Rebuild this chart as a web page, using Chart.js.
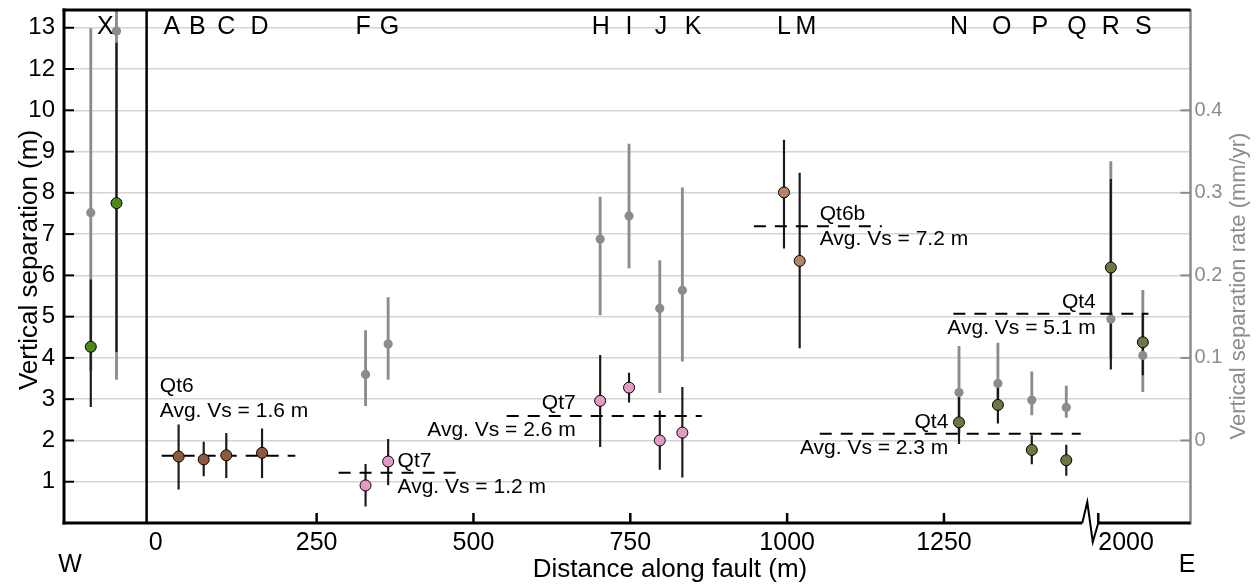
<!DOCTYPE html>
<html>
<head>
<meta charset="utf-8">
<script src="https://cdn.jsdelivr.net/npm/chart.js@4.4.1/dist/chart.umd.min.js"></script>
<style>
  html, body { margin: 0; padding: 0; background: #fff; }
</style>
</head>
<body>
<canvas id="myChart" width="1257" height="588"></canvas>
<script>
// sites along the fault, distance in m (R and S are past the axis break)
const sites    = ['X1','X2','A','B','C','D','F','G','H','I','J','K','L','M','N','O','P','Q','R','S'];
const siteDist = [-110, -69, 30, 70, 106, 163, 328, 364, 702, 748, 797, 833, 995, 1020, 1274, 1336, 1390, 1445, 2020, 2071];
const siteUnit = ['X','X','Qt6','Qt6','Qt6','Qt6','Qt7','Qt7','Qt7','Qt7','Qt7','Qt7','Qt6b','Qt6b','Qt4','Qt4','Qt4','Qt4','Qt4','Qt4'];

// vertical separation (m)
const vs   = [4.27, 7.75, 1.61, 1.54, 1.64, 1.70, 0.91, 1.49, 2.96, 3.28, 2.00, 2.19, 8.01, 6.35, 2.44, 2.86, 1.77, 1.52, 6.19, 4.38];
const vsLo = [2.82, 4.15, 0.82, 1.14, 1.10, 1.10, 0.41, 0.92, 1.85, 2.93, 1.30, 1.11, 6.66, 4.24, 1.92, 2.42, 1.43, 1.15, 3.73, 3.59];
const vsHi = [5.89, 11.63, 2.38, 1.96, 2.17, 2.28, 1.42, 2.03, 4.06, 3.63, 2.72, 3.29, 9.28, 8.48, 3.08, 3.36, 2.12, 1.89, 8.33, 5.08];

// vertical separation rate (mm/yr), grey marks
const rate   = [0.276, 0.496, null, null, null, null, 0.080, 0.117, 0.244, 0.272, 0.160, 0.182, null, null, 0.058, 0.069, 0.049, 0.040, 0.147, 0.103];
const rateLo = [0.085, 0.074, null, null, null, null, 0.042, 0.074, 0.152, 0.209, 0.058, 0.096, null, null, 0.010, 0.050, 0.031, 0.028, 0.100, 0.059];
const rateHi = [0.499, 0.560, null, null, null, null, 0.133, 0.173, 0.295, 0.359, 0.218, 0.306, null, null, 0.114, 0.118, 0.083, 0.066, 0.338, 0.182];

// average separation per terrace
const avgUnit = ['Qt6', 'Qt7', 'Qt7', 'Qt6b', 'Qt4', 'Qt4'];
const avgVs   = [1.63, 1.22, 2.59, 7.19, 2.16, 5.07];
const avgFrom = [3, 285, 553, 947, 1052, 1265];
const avgTo   = [216, 480, 864, 1151, 1468, 2080];
const avgText = ['Avg. Vs = 1.6 m', 'Avg. Vs = 1.2 m', 'Avg. Vs = 2.6 m', 'Avg. Vs = 7.2 m', 'Avg. Vs = 2.3 m', 'Avg. Vs = 5.1 m'];

// ticks
const yTicks      = [1, 2, 3, 4, 5, 6, 7, 8, 9, 10, 11, 12];
const yTickLabels = ['1', '2', '3', '4', '5', '6', '7', '8', '9', '10', '12', '13'];
const rateTicks   = [0, 0.1, 0.2, 0.3, 0.4];
const xTicks      = [0, 250, 500, 750, 1000, 1250, 2000];

// site letters along the top
const letters   = ['X','A','B','C','D','F','G','H','I','J','K','L','M','N','O','P','Q','R','S'];
const letterPos = [-87, 19, 60, 106, 159, 324, 366, 703, 748, 799, 850, 995, 1030, 1274, 1342, 1403, 1462, 2020, 2072];

const unitColor = { X: '#4b8a16', Qt6: '#8d5a3b', Qt7: '#e49ac3', Qt6b: '#b38566', Qt4: '#6a7842' };

const BREAK_SHIFT = 504;
const bx = d => d >= 1900 ? d - BREAK_SHIFT : d;   // squeeze the far end past the break
const Y_MAX = 12.43;
const FONT = '"Liberation Sans", Arial, sans-serif';

const greyBars = [], greyPts = [], blackBars = [];
sites.forEach((s, i) => {
  const x = bx(siteDist[i]);
  blackBars.push({ x: x, y: [vsLo[i], vsHi[i]] });
  if (rate[i] != null) {
    greyBars.push({ x: x, y: [rateLo[i], rateHi[i]] });
    greyPts.push({ x: x, y: rate[i] });
  }
});

const datasets = [];
datasets.push({ type: 'bar', yAxisID: 'yRate', data: greyBars, backgroundColor: '#8c8c8c', barThickness: 2.2, grouped: false, order: 6 });
datasets.push({ type: 'bar', yAxisID: 'y', data: blackBars, backgroundColor: '#1a1a1a', barThickness: 1.5, grouped: false, order: 5 });
datasets.push({ type: 'scatter', yAxisID: 'yRate', data: greyPts, pointRadius: 4.6, pointBackgroundColor: '#8c8c8c', pointBorderWidth: 0, order: 4 });
avgVs.forEach((v, i) => {
  datasets.push({
    type: 'line', yAxisID: 'y', data: [{ x: bx(avgFrom[i]), y: v }, { x: bx(avgTo[i]), y: v }],
    borderColor: '#000', borderWidth: 2, borderDash: [12, 9], pointRadius: 0, order: 3
  });
});
Object.keys(unitColor).forEach(u => {
  const pts = [];
  sites.forEach((s, i) => { if (siteUnit[i] === u) pts.push({ x: bx(siteDist[i]), y: vs[i] }); });
  datasets.push({
    type: 'scatter', yAxisID: 'y', label: u, data: pts, pointRadius: 5.5,
    pointBackgroundColor: unitColor[u], pointBorderColor: '#000', pointBorderWidth: 1, order: 1
  });
});

// label placement for the averages: x (m), align, y of unit name and of avg text
const noteX     = [0, 379, 663, 1052, 1257, 1492];
const noteAlign = ['left', 'left', 'right', 'left', 'right', 'right'];
const noteY1    = [3.18, 1.364, 2.755, 7.342, 2.295, 5.202];
const noteY2    = [2.56, 0.72, 2.115, 6.736, 1.665, 4.58];

const decor = {
  id: 'decor',
  afterDraw(chart) {
    const { ctx, chartArea: a, scales } = chart;
    const x = scales.x, y = scales.y, yr = scales.yRate;
    ctx.save();
    const seg = (x1, y1, x2, y2, w, c) => {
      ctx.beginPath(); ctx.moveTo(x1, y1); ctx.lineTo(x2, y2);
      ctx.lineWidth = w; ctx.strokeStyle = c; ctx.stroke();
    };
    // divider between the western site and the main fault
    const xd = x.getPixelForValue(-21);
    seg(xd, a.top, xd, a.bottom, 2.5, '#000');
    // frame
    seg(a.right, a.top - 1, a.right, a.bottom + 1.5, 2.5, '#8c8c8c');
    seg(a.left - 1.5, a.top, a.right, a.top, 3, '#000');
    seg(a.left, a.top - 1.5, a.left, a.bottom + 1.5, 3, '#000');
    const t2000 = x.getPixelForValue(bx(2000));
    const b0 = t2000 - 16;
    seg(a.left - 1.5, a.bottom, b0, a.bottom, 3, '#000');
    seg(t2000, a.bottom, a.right, a.bottom, 3, '#000');
    // axis break zigzag
    ctx.beginPath();
    ctx.moveTo(b0, a.bottom); ctx.lineTo(b0 + 5, a.bottom - 21);
    ctx.lineTo(b0 + 10.5, a.bottom + 19); ctx.lineTo(t2000, a.bottom);
    ctx.lineWidth = 2; ctx.strokeStyle = '#000'; ctx.lineJoin = 'miter'; ctx.stroke();
    // inward ticks
    xTicks.forEach(v => {
      if (v <= 0) return;
      const px = x.getPixelForValue(bx(v));
      seg(px, a.bottom, px, a.bottom - 10, 2.5, '#000');
    });
    yTicks.forEach(v => {
      const py = y.getPixelForValue(v);
      seg(a.left, py, a.left + 10, py, 2, '#000');
    });
    rateTicks.forEach(v => {
      const py = yr.getPixelForValue(v);
      seg(a.right - 10, py, a.right, py, 2, '#8c8c8c');
    });
    // x tick labels
    ctx.fillStyle = '#000';
    ctx.font = '25px ' + FONT;
    ctx.textBaseline = 'alphabetic';
    xTicks.forEach(v => {
      const px = x.getPixelForValue(bx(v));
      ctx.textAlign = v === 2000 ? 'left' : 'center';
      ctx.fillText(String(v), v === 0 ? px - 4 : px, 549.5);
    });
    // site letters
    letters.forEach((l, i) => {
      ctx.textAlign = 'center';
      ctx.fillText(l, x.getPixelForValue(bx(letterPos[i])), 33.5);
    });
    ctx.textAlign = 'center';
    ctx.fillText('W', 70, 572);
    ctx.fillText('E', 1187, 572);
    // axis titles
    ctx.font = '26px ' + FONT;
    ctx.fillText('Distance along fault (m)', 670, 577);
    ctx.save();
    ctx.translate(37, 260); ctx.rotate(-Math.PI / 2);
    ctx.fillText('Vertical separation (m)', 0, 0);
    ctx.restore();
    ctx.save();
    ctx.fillStyle = '#8c8c8c';
    ctx.font = '22px ' + FONT;
    ctx.translate(1244.5, 286); ctx.rotate(-Math.PI / 2);
    ctx.fillText('Vertical separation rate (mm/yr)', 0, 0);
    ctx.restore();
    // average labels
    ctx.font = '21px ' + FONT;
    avgText.forEach((t, i) => {
      const px = x.getPixelForValue(noteX[i]);
      ctx.textAlign = noteAlign[i];
      ctx.fillText(avgUnit[i], px, y.getPixelForValue(noteY1[i]));
      ctx.fillText(t, px, y.getPixelForValue(noteY2[i]));
    });
    ctx.restore();
  }
};

new Chart(document.getElementById('myChart'), {
  type: 'scatter',
  data: { datasets: datasets },
  options: {
    responsive: false,
    animation: false,
    devicePixelRatio: 1,
    layout: { padding: { left: 0, right: 0, top: 10, bottom: 65 } },
    plugins: { legend: { display: false }, tooltip: { enabled: false } },
    scales: {
      x: { type: 'linear', min: -152.7, max: 1643, display: false, offset: false },
      y: {
        type: 'linear', position: 'left', min: 0, max: Y_MAX,
        afterFit: s => { s.width = 64; s.paddingTop = 0; s.paddingBottom = 0; },
        afterBuildTicks: s => { s.ticks = yTicks.map(v => ({ value: v })); },
        grid: { color: '#d4d4d4', lineWidth: 1.5, drawTicks: false },
        border: { display: false },
        ticks: { padding: 9, color: '#000', font: { family: FONT, size: 24 }, autoSkip: false,
                 callback: (v, i) => yTickLabels[i] }
      },
      yRate: {
        type: 'linear', position: 'right', min: -0.1, max: (Y_MAX - 2) * 0.05,
        afterFit: s => { s.width = 66.5; s.paddingTop = 0; s.paddingBottom = 0; },
        afterBuildTicks: s => { s.ticks = rateTicks.map(v => ({ value: v })); },
        grid: { display: false, drawTicks: false },
        border: { display: false },
        ticks: { padding: 4, color: '#8c8c8c', font: { family: FONT, size: 20 }, autoSkip: false,
                 callback: v => String(v) }
      }
    }
  },
  plugins: [decor]
});
</script>
</body>
</html>
